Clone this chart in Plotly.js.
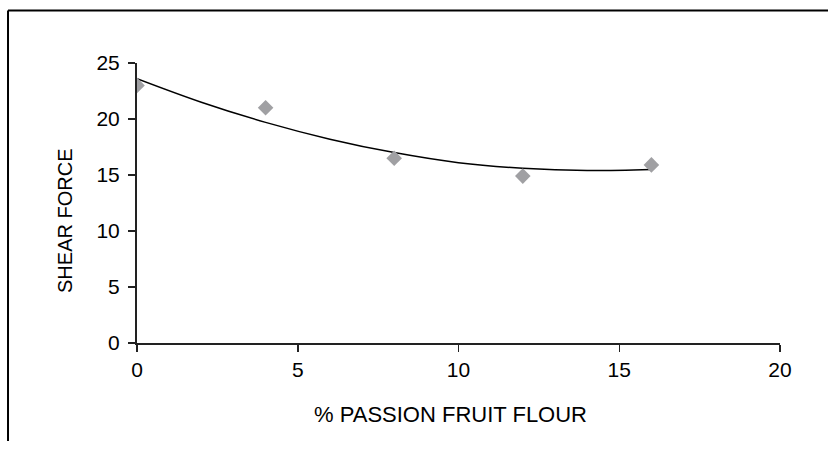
<!DOCTYPE html>
<html>
<head>
<meta charset="utf-8">
<script src="https://cdn.plot.ly/plotly-3.0.1.min.js"></script>
<style>html,body{margin:0;padding:0;background:#fff;}#chart{width:828px;height:452px;}</style>
</head>
<body>
<div id="chart"></div>
<script>
// Observed data points
const flourPct = [0, 4, 8, 12, 16];
const shearForce = [23, 21, 16.5, 14.9, 15.9];
// Polynomial trendline
const trendX = [0, 2, 4, 6, 8, 10, 12, 14, 16];
const trendY = [23.6, 21.5, 19.7, 18.2, 17.0, 16.1, 15.6, 15.4, 15.5];
const xTicks = [0, 5, 10, 15, 20];
const yTicks = [0, 5, 10, 15, 20, 25];
const xTitle = '% PASSION FRUIT FLOUR';
const yTitle = 'SHEAR FORCE';

const FONT = 'Liberation Sans, Arial, sans-serif';

const traces = [
  {x: trendX, y: trendY, mode: 'lines', line: {color: '#000', width: 1.5, shape: 'spline'}, hoverinfo: 'skip'},
  {x: flourPct, y: shearForce, mode: 'markers', marker: {symbol: 'diamond', size: 12, color: '#a0a0a3'}}
];

const layout = {
  width: 828, height: 452,
  margin: {l: 137, r: 48, t: 63, b: 109},
  paper_bgcolor: '#fff', plot_bgcolor: '#fff',
  showlegend: false,
  font: {family: FONT, size: 21, color: '#000'},
  xaxis: {
    range: [0, 20], tickvals: xTicks, ticktext: xTicks.map(String),
    showgrid: false, zeroline: false, showline: true, linecolor: '#222', linewidth: 2,
    ticks: 'outside', ticklen: 7, tickcolor: '#222', tickwidth: 1.5,
    tickfont: {family: FONT, size: 21}
  },
  yaxis: {
    range: [0, 25], tickvals: yTicks, ticktext: yTicks.map(String),
    showgrid: false, zeroline: false, showline: true, linecolor: '#222', linewidth: 2,
    ticks: 'outside', ticklen: 7, tickcolor: '#222', tickwidth: 1.5,
    ticklabelstandoff: 4,
    tickfont: {family: FONT, size: 21}
  },
  annotations: [
    {text: xTitle, xref: 'paper', yref: 'paper', x: 0.4868, y: -0.257, xanchor: 'center', yanchor: 'middle', showarrow: false, font: {family: FONT, size: 22, color: '#000'}},
    {text: yTitle, xref: 'paper', yref: 'paper', x: -0.112, y: 0.4357, xanchor: 'center', yanchor: 'middle', textangle: -90, showarrow: false, font: {family: FONT, size: 20, color: '#000'}}
  ],
  shapes: [
    {type: 'line', xref: 'paper', yref: 'paper', x0: -0.2006, x1: -0.2006, y0: -0.35, y1: 1.1875, line: {color: '#000', width: 2}},
    {type: 'line', xref: 'paper', yref: 'paper', x0: -0.2006, x1: 1.08, y0: 1.1875, y1: 1.1875, line: {color: '#000', width: 2}}
  ]
};

Plotly.newPlot('chart', traces, layout, {displayModeBar: false, staticPlot: true});
</script>
</body>
</html>
